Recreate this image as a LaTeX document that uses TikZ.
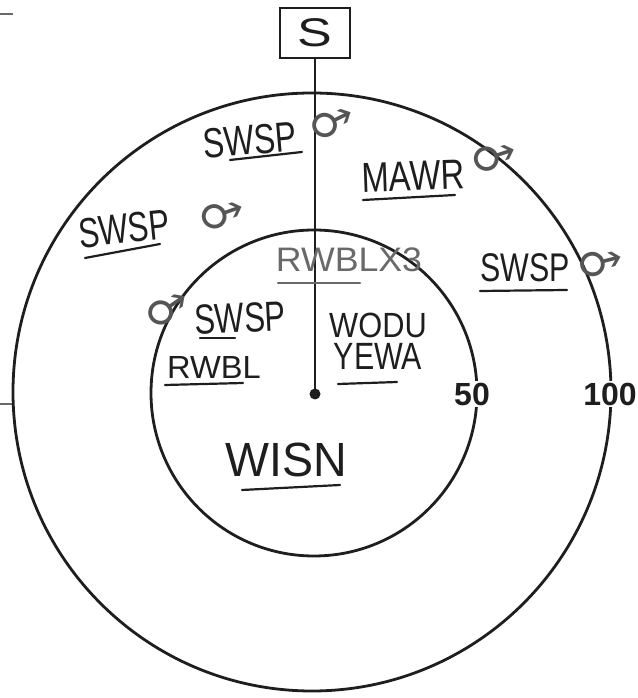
\documentclass[tikz,border=0pt]{standalone}
\usepackage{fontspec}
\usepackage{graphicx}
\setmainfont{Liberation Sans}
\newfontfamily\symfont{DejaVu Sans}
\definecolor{ink}{RGB}{30,30,30}
\definecolor{pencil}{RGB}{105,105,105}
\definecolor{signgray}{RGB}{85,85,85}
\newcommand{\hwd}[2]{\scalebox{#1}[1]{#2}}
\begin{document}
\begin{tikzpicture}[x=1pt,y=1pt,
  ring/.style={draw=ink, line width=2.8pt},
  hand/.style={inner sep=0pt, text=ink},
  uline/.style={draw=ink, line width=2.2pt, line cap=round},
  msign/.style={inner sep=0pt, text=signgray, font=\symfont\fontsize{44}{44}\selectfont},
  dist/.style={inner sep=1.5pt, fill=white, text=ink, font=\bfseries\fontsize{32}{32}\selectfont}]
\useasboundingbox (0,0) rectangle (637,698);
% scan marks
\draw[pencil, line width=1.2pt] (0,684) -- (13,684);
\draw[pencil, line width=1.2pt] (0,294) -- (14,294);
% rings
\draw[ring] (312,306) circle[radius=299pt];
\draw[ring] (314,305) circle[radius=163pt];
% station box and line
\node[draw=ink, line width=1.5pt, minimum width=70pt, minimum height=50pt, inner sep=0pt,
      text=ink, font=\fontsize{40}{40}\selectfont] (sbox) at (315,665) {\hwd{1.3}{S}};
\node[circle, fill=ink, minimum size=11pt, inner sep=0pt] (dot) at (315,304) {};
\draw[ink, line width=2.2pt] (sbox.south) -- (dot.center);
% distance labels
\node[dist] (d50) at (472,304) {50};
\node[dist, inner xsep=0.5pt] (d100) at (610,304) {100};
% outer band words
\node[hand, font=\fontsize{42}{42}\selectfont, rotate=5] (w1) at (250,558) {\hwd{0.76}{SWSP}};
\draw[uline] (230,538) -- (302,546);
\node[msign, rotate=-18] (m1) at (330,575) {♂};
\node[hand, font=\fontsize{42}{42}\selectfont, rotate=2] (w2) at (413,522) {\hwd{0.78}{MAWR}};
\draw[uline] (363,498) -- (455,503);
\node[msign, rotate=-26] (m2) at (492,541) {♂};
\node[hand, font=\fontsize{42}{42}\selectfont, rotate=6] (w3) at (124,469) {\hwd{0.74}{SWSP}};
\draw[uline] (85,440) -- (160,454);
\node[msign, rotate=-25] (m3) at (220,483) {♂};
\node[hand, font=\fontsize{40}{40}\selectfont] (w4) at (525,430) {\hwd{0.76}{SWSP}};
\draw[uline] (480,407) -- (567,408);
\node[msign, rotate=-30] (m4) at (598,435) {♂};
% inner disc words
\node[hand, text=pencil, font=\fontsize{34}{34}\selectfont] (w5) at (349,438) {\hwd{1.05}{RWBLX3}};
\draw[uline, draw=pencil] (278,415) -- (360,415);
\node[msign, rotate=-10] (m5) at (166,388) {♂};
\node[hand, font=\fontsize{42}{42}\selectfont, rotate=3] (w6) at (240,380) {\hwd{0.74}{SWSP}};
\draw[uline] (200,360) -- (235,360);
\node[hand, font=\fontsize{32}{32}\selectfont] (w7) at (214,331) {\hwd{1.02}{RWBL}};
\draw[uline] (165,313) -- (243,315);
\node[hand, font=\fontsize{35}{35}\selectfont] (w8) at (378,373) {\hwd{0.88}{WODU}};
\node[hand, font=\fontsize{38}{38}\selectfont] (w9) at (378,342) {\hwd{0.8}{YEWA}};
\draw[uline] (338,314) -- (397,316);
\node[hand, font=\fontsize{48}{48}\selectfont] (w10) at (286,238) {\hwd{0.97}{WISN}};
\draw[uline] (242,208) -- (340,213);
\end{tikzpicture}
\end{document}
